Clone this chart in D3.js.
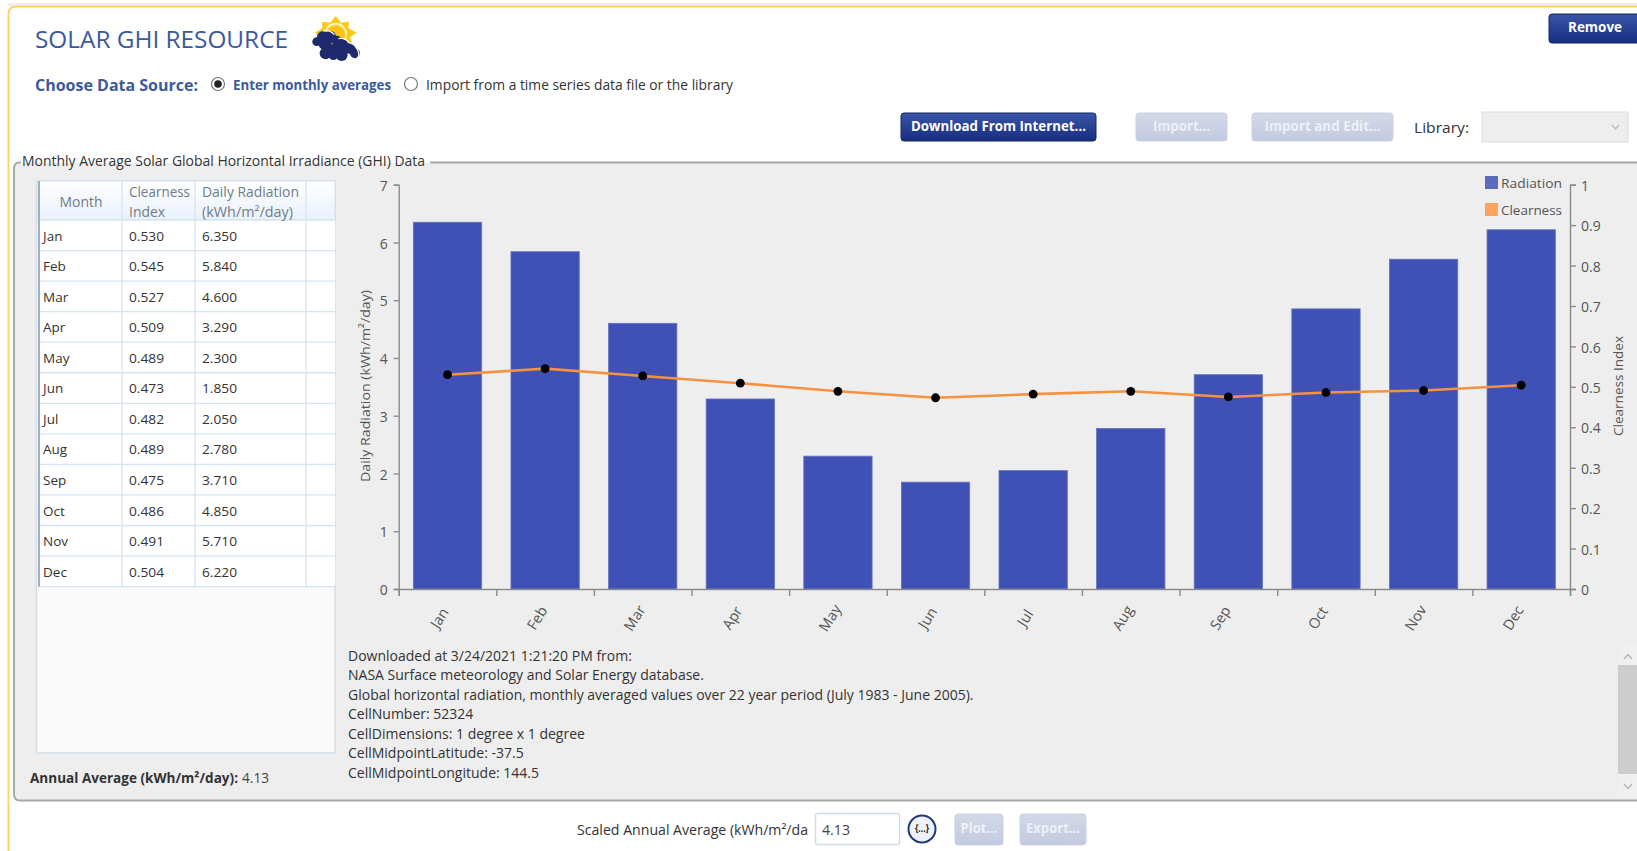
<!DOCTYPE html>
<html lang="en">
<head>
<meta charset="UTF-8" />
<title>Solar GHI Resource</title>
<script src="https://d3js.org/d3.v7.min.js"></script>
<style>
  html, body { margin: 0; background: #fff; overflow: hidden; }
  svg { display: block; font-family: 'Open Sans', sans-serif; }
  .axis text { font-size: 14px; fill: #555; font-family: 'Open Sans', sans-serif; }
  .axis path, .axis line { stroke: #8a8a8a; stroke-width: 1.4px; }
</style>
</head>
<body>
<div id="chart"></div>
<script>
const months = ['Jan','Feb','Mar','Apr','May','Jun','Jul','Aug','Sep','Oct','Nov','Dec'];
const radiation = [6.35,5.84,4.6,3.29,2.3,1.85,2.05,2.78,3.71,4.85,5.71,6.22];
const clearness = [0.53,0.545,0.527,0.509,0.489,0.473,0.482,0.489,0.475,0.486,0.491,0.504];
const radiationTicks = [0,1,2,3,4,5,6,7];
const clearnessTicks = [0,0.1,0.2,0.3,0.4,0.5,0.6,0.7,0.8,0.9,1];
const notes = [
  'Downloaded at 3/24/2021 1:21:20 PM from:',
  'NASA Surface meteorology and Solar Energy database.',
  'Global horizontal radiation, monthly averaged values over 22 year period (July 1983 - June 2005).',
  'CellNumber: 52324',
  'CellDimensions: 1 degree x 1 degree',
  'CellMidpointLatitude: -37.5',
  'CellMidpointLongitude: 144.5'
];

const width = 1637, height = 851;
const blue = '#3b5a9d';

const svg = d3.select('#chart').append('svg')
  .attr('width', width).attr('height', height);
const defs = svg.append('defs');

function gradient(id, top, bottom) {
  const g = defs.append('linearGradient').attr('id', id)
    .attr('x1', 0).attr('x2', 0).attr('y1', 0).attr('y2', 1);
  g.append('stop').attr('offset', '0%').attr('stop-color', top);
  g.append('stop').attr('offset', '100%').attr('stop-color', bottom);
}
gradient('btnOn', '#3a55a8', '#172e80');
gradient('btnOff', '#d3d9e8', '#c3cae0');
gradient('head', '#ffffff', '#e9f1fb');

function label(x, y, s, o = {}) {
  const t = svg.append('text').attr('x', x).attr('y', y).attr('dy', '0.35em')
    .attr('font-size', o.size || 14)
    .attr('font-weight', o.bold ? 700 : 400)
    .attr('fill', o.color || '#333')
    .attr('text-anchor', o.anchor || 'start')
    .text(s);
  if (o.w) t.attr('textLength', o.w).attr('lengthAdjust', 'spacingAndGlyphs');
  if (o.rotate) t.attr('transform', `rotate(${o.rotate},${x},${y})`);
  return t;
}

function button(x, y, w, h, s, on, tw) {
  svg.append('rect').attr('x', x).attr('y', y).attr('width', w).attr('height', h).attr('rx', 3)
    .attr('fill', `url(#${on ? 'btnOn' : 'btnOff'})`)
    .attr('stroke', on ? '#14275f' : '#ccd2e2');
  label(x + w / 2, y + h / 2 - 1, s, { anchor: 'middle', bold: true, color: on ? '#fff' : '#eef0f6', w: tw });
}

function radio(x, y, on) {
  svg.append('circle').attr('cx', x).attr('cy', y).attr('r', 6.5)
    .attr('fill', '#fff').attr('stroke', '#777').attr('stroke-width', 1.2);
  if (on) svg.append('circle').attr('cx', x).attr('cy', y).attr('r', 3.8).attr('fill', '#222');
}

// window frame
svg.append('rect').attr('x', 8).attr('y', 3).attr('width', width).attr('height', 3).attr('fill', '#eeeeee');
svg.append('path').attr('d', `M${width},6.5H16Q8.5,6.5 8.5,14V${height}`)
  .attr('fill', 'none').attr('stroke', '#fdd468').attr('stroke-width', 2);

// header
label(35, 40, 'SOLAR GHI RESOURCE', { size: 24, color: blue, w: 253 });

const icon = svg.append('g').attr('transform', 'translate(305,10) scale(0.3333)');
icon.append('path')
  .attr('d', 'M92,18L108,38L132,35L130,55L155,68L135,82L145,108L90,110L45,110L50,85L30,68L52,55L52,35L76,38Z')
  .attr('fill', '#fbc912');
icon.append('circle').attr('cx', 92).attr('cy', 72).attr('r', 34).attr('fill', '#fff3b0');
icon.append('circle').attr('cx', 92).attr('cy', 74).attr('r', 29).attr('fill', '#fcc419');
icon.selectAll('circle.cloud')
  .data([[35,95,13],[55,82,19],[75,80,18],[95,92,15],[60,100,20],[62,130,18],[85,120,18],[110,105,20],[135,115,17],[150,130,15],[110,135,18],[85,138,12]])
  .enter().append('circle').attr('class', 'cloud')
  .attr('cx', d => d[0]).attr('cy', d => d[1]).attr('r', d => d[2])
  .attr('fill', '#1f2a6e');
icon.append('path').attr('d', 'M55,63Q75,58 88,74M100,86Q120,82 132,98Q152,102 160,125Q165,137 155,147')
  .attr('fill', 'none').attr('stroke', '#fff').attr('stroke-width', 4);

label(35, 85, 'Choose Data Source:', { size: 16, bold: true, color: blue, w: 163 });
radio(218, 84, true);
label(233, 85, 'Enter monthly averages', { bold: true, color: blue, w: 158 });
radio(411, 84, false);
label(426, 85, 'Import from a time series data file or the library', { w: 307 });

button(1549, 14, 92, 29, 'Remove', true, 54);
button(901, 113, 195, 28, 'Download From Internet...', true, 175);
button(1136, 113, 91, 28, 'Import...', false, 57);
button(1252, 113, 141, 28, 'Import and Edit...', false, 116);
label(1414, 128, 'Library:', { size: 15, w: 55 });
svg.append('rect').attr('x', 1482).attr('y', 112).attr('width', 146).attr('height', 30)
  .attr('fill', '#eeeeee').attr('stroke', '#dcdcdc');
svg.append('path').attr('d', 'M1612,125l3.5,4l3.5,-4').attr('fill', 'none').attr('stroke', '#bbb').attr('stroke-width', 1.2);

// group box
svg.append('path').attr('d', `M${width},163H20Q14,163 14,170V794Q14,800 20,800H${width}Z`)
  .attr('fill', '#eeeeee');
svg.append('path').attr('d', `M${width},162.5H430M21,162.5H19Q14,162.5 14,169V794Q14,800.5 20,800.5H${width}`)
  .attr('fill', 'none').attr('stroke', '#a8a8a8').attr('stroke-width', 2);
label(22, 161, 'Monthly Average Solar Global Horizontal Irradiance (GHI) Data', { w: 403 });

// table
const colX = [122, 195, 306];
const headTop = 181, headBottom = 220, rowH = 30.55, tableBottom = 753;
svg.append('rect').attr('x', 36.5).attr('y', headTop).attr('width', 298.5).attr('height', tableBottom - headTop)
  .attr('fill', '#fafafa').attr('stroke', '#d3dee9').attr('stroke-width', 1.5);
svg.append('rect').attr('x', 38).attr('y', headTop).attr('width', 297).attr('height', headBottom - headTop)
  .attr('fill', 'url(#head)').attr('stroke', '#d3dee9');
svg.append('rect').attr('x', 38).attr('y', headBottom).attr('width', 297).attr('height', rowH * 12)
  .attr('fill', '#fff');
svg.selectAll('line.row').data(d3.range(13)).enter().append('line').attr('class', 'row')
  .attr('x1', 38).attr('x2', 335)
  .attr('y1', i => headBottom + i * rowH).attr('y2', i => headBottom + i * rowH)
  .attr('stroke', '#d6e4f1').attr('stroke-width', 1.3);
svg.selectAll('line.col').data(colX).enter().append('line').attr('class', 'col')
  .attr('x1', d => d).attr('x2', d => d)
  .attr('y1', headTop).attr('y2', headBottom + rowH * 12)
  .attr('stroke', '#d6e4f1').attr('stroke-width', 1.3);
svg.append('line').attr('x1', 39).attr('x2', 39).attr('y1', headTop).attr('y2', headBottom + rowH * 12)
  .attr('stroke', '#9fb0c2').attr('stroke-width', 2);

const headColor = '#6f7c8a';
label(81, 202, 'Month', { anchor: 'middle', color: headColor, w: 43 });
label(129, 192, 'Clearness', { color: headColor, w: 61 });
label(129, 212, 'Index', { color: headColor, w: 36 });
label(202, 192, 'Daily Radiation', { color: headColor, w: 97 });
label(202, 212, '(kWh/m²/day)', { color: headColor, w: 91 });

const fmt = d3.format('.3f');
months.forEach((m, i) => {
  const y = headBottom + (i + 0.52) * rowH;
  label(43, y, m, { size: 13.5 });
  label(129, y, fmt(clearness[i]), { size: 13.5, w: 35 });
  label(202, y, fmt(radiation[i]), { size: 13.5, w: 35 });
});

label(30, 778, 'Annual Average (kWh/m²/day):', { bold: true, w: 208 });
label(242, 778, '4.13', { color: '#444', w: 27 });

// chart
const x = d3.scaleBand().domain(months).range([398.7, 1570]).paddingInner(0.3).paddingOuter(0.15);
const yLeft = d3.scaleLinear().domain([0, 7]).range([589, 184.7]);
const yRight = d3.scaleLinear().domain([0, 1]).range([589, 184.7]);

svg.selectAll('rect.bar').data(radiation).enter().append('rect').attr('class', 'bar')
  .attr('x', (d, i) => x(months[i]))
  .attr('y', d => yLeft(d))
  .attr('width', x.bandwidth())
  .attr('height', d => yLeft(0) - yLeft(d))
  .attr('fill', '#3f51b5')
  .attr('stroke', '#6573c3')
  .attr('stroke-width', 0.8);

svg.append('g').attr('class', 'axis')
  .attr('transform', 'translate(398.7,0)')
  .call(d3.axisLeft(yLeft).tickValues(radiationTicks).tickSize(5).tickPadding(6).tickFormat(d3.format('d')))
  .selectAll('text').attr('dy', '0.4em');

svg.append('g').attr('class', 'axis')
  .attr('transform', 'translate(1570,0)')
  .call(d3.axisRight(yRight).tickValues(clearnessTicks).tickSize(6).tickPadding(5).tickFormat(d => d))
  .selectAll('text').attr('dy', '0.4em');

// month ticks sit on the band edges, so the labels are added by hand
svg.append('g').attr('class', 'axis')
  .attr('transform', 'translate(0,589)')
  .call(d3.axisBottom(d3.scaleLinear().domain([0, 12]).range([398.7, 1570]))
    .tickValues(d3.range(13)).tickSize(7).tickFormat(''));

svg.selectAll('text.month').data(months).enter().append('text').attr('class', 'month')
  .attr('transform', d => `translate(${x(d) + x.bandwidth() / 2 - 8},618) rotate(-58)`)
  .attr('text-anchor', 'middle').attr('dy', '0.35em')
  .attr('font-size', 14.5).attr('fill', '#555')
  .text(d => d);

const line = d3.line()
  .x((d, i) => x(months[i]) + x.bandwidth() / 2)
  .y(d => yRight(d));
svg.append('path').datum(clearness).attr('d', line)
  .attr('fill', 'none').attr('stroke', '#f6923f').attr('stroke-width', 2.6);
svg.selectAll('circle.pt').data(clearness).enter().append('circle').attr('class', 'pt')
  .attr('cx', (d, i) => x(months[i]) + x.bandwidth() / 2)
  .attr('cy', d => yRight(d))
  .attr('r', 4.4)
  .attr('fill', '#000');

label(365, 386, 'Daily Radiation (kWh/m²/day)', { anchor: 'middle', size: 13.5, color: '#555', rotate: -90, w: 192 });
label(1618, 386, 'Clearness Index', { anchor: 'middle', size: 13.5, color: '#555', rotate: -90, w: 100 });

// legend
const legendNames = ['Radiation', 'Clearness'];
const legendColors = ['#5b6bc0', '#fda35f'];
legendNames.forEach((n, i) => {
  svg.append('rect').attr('x', 1485).attr('y', 176 + i * 27).attr('width', 13).attr('height', 13)
    .attr('fill', legendColors[i]);
  label(1501, 183.5 + i * 27, n, { size: 13.5, color: '#555', w: 61 });
});

// notes + scrollbar
notes.forEach((n, i) => label(348, 655.7 + i * 19.55, n, { size: 14 }));
svg.append('rect').attr('x', 1618).attr('y', 645).attr('width', 19).attr('height', 152).attr('fill', '#f0f0f0');
svg.append('rect').attr('x', 1618).attr('y', 665).attr('width', 19).attr('height', 109).attr('fill', '#cdcdcd');
svg.append('path').attr('d', 'M1624,659l4,-4.5l4,4.5M1624,784l4,4.5l4,-4.5')
  .attr('fill', 'none').attr('stroke', '#b5b5b5').attr('stroke-width', 1.4);

// footer
label(577, 830, 'Scaled Annual Average (kWh/m²/da', { w: 231 });
svg.append('rect').attr('x', 815.5).attr('y', 813.5).attr('width', 84).attr('height', 31).attr('rx', 2)
  .attr('fill', '#fff').attr('stroke', '#cfdcec').attr('stroke-width', 1.5);
label(822, 830, '4.13', { color: '#444', w: 28 });
svg.append('circle').attr('cx', 922).attr('cy', 829).attr('r', 13.5)
  .attr('fill', '#eef1f7').attr('stroke', '#1f3a7a').attr('stroke-width', 2);
label(922, 828, '{...}', { anchor: 'middle', bold: true, size: 11, color: '#222', w: 14 });
button(955, 814, 48, 31, 'Plot...', false, 37);
button(1020, 814, 66, 31, 'Export...', false, 54);
</script>
</body>
</html>
